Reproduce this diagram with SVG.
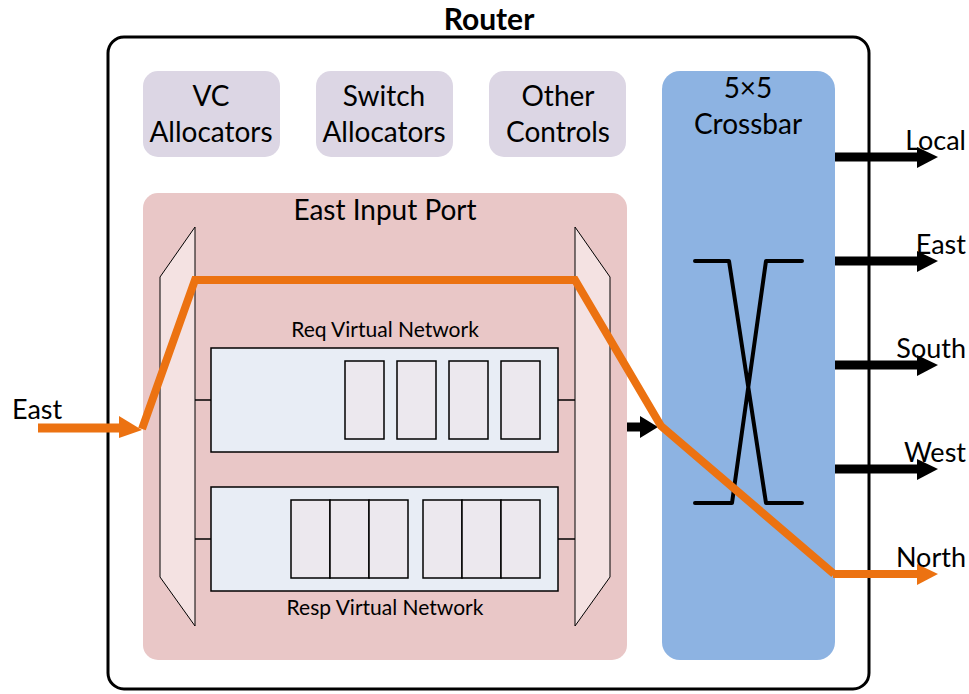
<svg xmlns="http://www.w3.org/2000/svg" width="969" height="694" viewBox="0 0 969 694">
<style>
text{font-family:Lato,"Open Sans","Liberation Sans",sans-serif;fill:#000}
.ctl{fill:#dcd6e4}
.big{font-size:28px;text-anchor:middle}
.lbl{font-size:27px;text-anchor:end}
.vn{fill:#e8edf5;stroke:#000;stroke-width:1.5}
.slot{fill:#ece8ee;stroke:#000;stroke-width:1.5}
.trap{fill:#f4e2e2;stroke:#000;stroke-width:1}
.stub{stroke:#000;stroke-width:1.5}
.out{stroke:#000;stroke-width:9}
.xb{fill:none;stroke:#000;stroke-width:4;stroke-linecap:round;stroke-linejoin:round}
.or{fill:none;stroke:#ec7211;stroke-width:8;stroke-linejoin:miter}
</style>
<rect width="969" height="694" fill="#fff"/>
<g id="router">
<rect x="108" y="37" width="761" height="652" rx="16" fill="#fff" stroke="#000" stroke-width="3"/>
<text x="489" y="30" font-size="30" font-weight="bold" text-anchor="middle">Router</text>
</g>
<g id="vc-alloc"><rect class="ctl" x="143" y="71" width="137" height="86" rx="15"/><text class="big" x="211" y="106">VC</text><text class="big" x="211" y="142">Allocators</text></g>
<g id="sw-alloc"><rect class="ctl" x="316" y="71" width="137" height="86" rx="15"/><text class="big" x="384" y="106">Switch</text><text class="big" x="384" y="142">Allocators</text></g>
<g id="other"><rect class="ctl" x="489" y="71" width="137" height="86" rx="15"/><text class="big" x="558" y="106">Other</text><text class="big" x="558" y="142">Controls</text></g>
<g id="crossbar">
<rect x="662" y="71" width="173" height="589" rx="18" fill="#8db3e2"/>
<text class="big" x="748" y="98">5×5</text><text class="big" x="748" y="134">Crossbar</text>
<path class="xb" d="M695,261H729L766,503H802M802,261H766L732,503H695"/>
</g>
<g id="east-input-port">
<rect x="143" y="193" width="484" height="467" rx="15" fill="#e9c7c7"/>
<text x="385" y="220" font-size="28" text-anchor="middle">East Input Port</text>
<polygon class="trap" points="195,227 160,277 160,577 195,626"/>
<polygon class="trap" points="575,227 610,277 610,577 575,626"/>
<line class="stub" x1="195" y1="400" x2="211" y2="400"/><line class="stub" x1="195" y1="539" x2="211" y2="539"/>
<line class="stub" x1="558" y1="400" x2="575" y2="400"/><line class="stub" x1="558" y1="539" x2="575" y2="539"/>
</g>
<g id="req-vn">
<text x="385" y="337" font-size="21" text-anchor="middle">Req Virtual Network</text>
<rect class="vn" x="211" y="348" width="347" height="104"/>
<rect class="slot" x="345" y="361" width="39" height="78"/><rect class="slot" x="397" y="361" width="39" height="78"/>
<rect class="slot" x="449" y="361" width="39" height="78"/><rect class="slot" x="501" y="361" width="39" height="78"/>
</g>
<g id="resp-vn">
<rect class="vn" x="211" y="487" width="347" height="104"/>
<rect class="slot" x="291" y="500" width="39" height="78"/><rect class="slot" x="330" y="500" width="39" height="78"/><rect class="slot" x="369" y="500" width="39" height="78"/>
<rect class="slot" x="423" y="500" width="39" height="78"/><rect class="slot" x="462" y="500" width="39" height="78"/><rect class="slot" x="501" y="500" width="39" height="78"/>
<text x="385" y="615" font-size="21" text-anchor="middle">Resp Virtual Network</text>
</g>
<g id="connectors">
<line class="out" x1="627" y1="427" x2="642" y2="427"/><polygon points="640,416 658,427 640,438"/>
<line class="out" x1="835" y1="157" x2="920" y2="157"/><polygon points="917,147 938,157 917,168"/>
<line class="out" x1="835" y1="261" x2="920" y2="261"/><polygon points="917,251 938,261 917,272"/>
<line class="out" x1="835" y1="365" x2="920" y2="365"/><polygon points="917,355 938,365 917,376"/>
<line class="out" x1="835" y1="469" x2="920" y2="469"/><polygon points="917,459 938,469 917,480"/>
<line x1="38" y1="428" x2="122" y2="428" stroke="#ec7211" stroke-width="9"/><polygon points="119,416 142,430 119,438" fill="#ec7211"/>
<polyline class="or" points="142,429 195,280 575,280 661,426 834,574"/>
<line x1="833" y1="574" x2="920" y2="574" stroke="#ec7211" stroke-width="8"/><polygon points="917,564 938,574 917,585" fill="#ec7211"/>
</g>
<g id="labels">
<text x="12" y="419" font-size="27">East</text>
<text class="lbl" x="966" y="150">Local</text>
<text class="lbl" x="966" y="254">East</text>
<text class="lbl" x="966" y="358">South</text>
<text class="lbl" x="966" y="462">West</text>
<text class="lbl" x="966" y="567">North</text>
</g>
</svg>
